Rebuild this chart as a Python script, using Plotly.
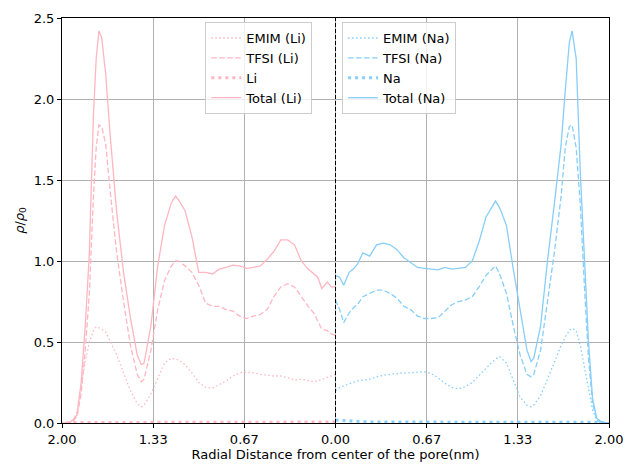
import plotly.graph_objects as go

# ---------------- data ----------------
r_li = [0.00,0.03,0.06,0.10,0.13,0.16,0.20,0.25,0.30,0.35,0.40,0.45,0.50,0.55,0.60,0.65,0.70,0.75,0.80,0.85,
        0.90,0.95,1.00,1.05,1.10,1.15,1.17,1.20,1.25,1.30,1.35,1.40,1.42,1.45,1.50,1.55,1.60,1.65,1.68,1.71,
        1.73,1.75,1.77,1.80,1.83,1.86,1.89,1.92,1.95,1.98,2.00]
li_total = [0.84,0.84,0.87,0.83,0.90,0.92,0.95,1.00,1.10,1.13,1.13,1.06,1.01,0.97,0.96,0.955,0.97,0.975,0.96,0.95,
            0.92,0.93,0.93,1.15,1.31,1.38,1.40,1.36,1.22,0.97,0.60,0.37,0.36,0.42,0.65,0.93,1.30,1.80,2.15,2.38,
            2.42,2.25,1.90,1.05,0.60,0.25,0.05,0.02,0.00,0.00,0.00]
li_tfsi = [0.54,0.55,0.57,0.58,0.63,0.68,0.72,0.78,0.84,0.86,0.84,0.78,0.70,0.67,0.66,0.645,0.66,0.69,0.70,0.72,
           0.72,0.74,0.85,0.93,0.97,1.00,1.00,0.97,0.88,0.70,0.45,0.27,0.255,0.30,0.48,0.75,1.05,1.45,1.72,1.83,
           1.84,1.70,1.40,0.80,0.45,0.18,0.04,0.01,0.00,0.00,0.00]
li_emim = [0.30,0.29,0.28,0.27,0.26,0.255,0.26,0.27,0.265,0.28,0.29,0.29,0.295,0.30,0.31,0.315,0.31,0.29,0.26,0.235,
           0.215,0.22,0.25,0.31,0.36,0.39,0.395,0.40,0.37,0.28,0.18,0.11,0.10,0.12,0.20,0.31,0.42,0.51,0.56,0.58,
           0.59,0.595,0.57,0.50,0.38,0.22,0.07,0.01,0.00,0.00,0.00]

r_na = [0.00,0.03,0.06,0.10,0.13,0.16,0.20,0.25,0.30,0.35,0.40,0.45,0.50,0.55,0.60,0.65,0.70,0.75,0.80,0.85,
        0.90,0.95,1.00,1.05,1.10,1.15,1.17,1.20,1.25,1.30,1.35,1.40,1.43,1.45,1.50,1.55,1.60,1.65,1.68,1.71,
        1.73,1.76,1.79,1.82,1.85,1.88,1.91,1.94,1.97,2.00]
na_total = [0.91,0.90,0.85,0.93,0.95,0.98,1.05,1.03,1.10,1.11,1.10,1.07,1.02,0.99,0.96,0.955,0.95,0.945,0.96,0.95,
            0.955,0.96,1.00,1.12,1.27,1.34,1.37,1.33,1.22,0.95,0.70,0.45,0.38,0.40,0.60,1.00,1.35,1.72,2.05,2.35,
            2.42,2.25,1.55,1.05,0.50,0.15,0.03,0.01,0.00,0.00]
na_tfsi = [0.76,0.70,0.62,0.68,0.71,0.73,0.78,0.80,0.82,0.82,0.80,0.77,0.72,0.70,0.66,0.645,0.645,0.65,0.69,0.73,
           0.75,0.76,0.78,0.84,0.91,0.95,0.97,0.92,0.80,0.60,0.42,0.30,0.285,0.30,0.45,0.75,1.05,1.40,1.70,1.83,
           1.84,1.70,1.35,0.85,0.40,0.12,0.02,0.00,0.00,0.00]
na_emim = [0.20,0.22,0.23,0.24,0.25,0.26,0.265,0.27,0.285,0.295,0.30,0.305,0.31,0.31,0.315,0.317,0.305,0.28,0.245,0.22,
           0.21,0.225,0.25,0.295,0.34,0.38,0.395,0.41,0.37,0.26,0.16,0.11,0.10,0.11,0.17,0.27,0.38,0.48,0.53,0.57,
           0.585,0.57,0.48,0.34,0.20,0.08,0.02,0.00,0.00,0.00]

r_ion = [0.0,0.1,0.2,0.3,0.4,0.5,0.6,0.7,0.8,0.9,1.0,1.1,1.2,1.3,1.4,1.5,1.6,1.7,1.8,1.9,2.0]
li_ion = [0.006,0.006,0.005,0.005,0.005,0.005,0.005,0.005,0.005,0.005,0.005,0.005,0.005,0.005,0.005,0.005,0.005,0.006,0.006,0.003,0.0]
na_ion = [0.018,0.012,0.008,0.006,0.006,0.005,0.005,0.005,0.005,0.005,0.005,0.005,0.005,0.005,0.005,0.005,0.006,0.007,0.008,0.004,0.0]

tick_vals = [-2.0, -1.3333, -0.6667, 0.0, 0.6667, 1.3333, 2.0]
tick_text = ["2.00", "1.33", "0.67", "0.00", "0.67", "1.33", "2.00"]
y_ticks = [0.0, 0.5, 1.0, 1.5, 2.0, 2.5]

LI = "#FFB6C1"
NA = "#87CEFA"
DOT = "1.5px,2.5px"
DASH = "5.5px,2.5px"
ION = "3px,4px"

fig = go.Figure()

def neg(v):
    return [-x for x in v]

# Li (left side)
fig.add_trace(go.Scatter(x=neg(r_li), y=li_emim, mode="lines", name="EMIM (Li)",
                         line=dict(color=LI, width=1.3, dash=DOT), legend="legend"))
fig.add_trace(go.Scatter(x=neg(r_li), y=li_tfsi, mode="lines", name="TFSI (Li)",
                         line=dict(color=LI, width=1.3, dash=DASH), legend="legend"))
fig.add_trace(go.Scatter(x=neg(r_ion), y=li_ion, mode="lines", name="Li",
                         line=dict(color=LI, width=3, dash=ION), legend="legend"))
fig.add_trace(go.Scatter(x=neg(r_li), y=li_total, mode="lines", name="Total (Li)",
                         line=dict(color=LI, width=1.3), legend="legend"))

# Na (right side)
fig.add_trace(go.Scatter(x=r_na, y=na_emim, mode="lines", name="EMIM (Na)",
                         line=dict(color=NA, width=1.3, dash=DOT), legend="legend2"))
fig.add_trace(go.Scatter(x=r_na, y=na_tfsi, mode="lines", name="TFSI (Na)",
                         line=dict(color=NA, width=1.3, dash=DASH), legend="legend2"))
fig.add_trace(go.Scatter(x=r_ion, y=na_ion, mode="lines", name="Na",
                         line=dict(color=NA, width=3, dash=ION), legend="legend2"))
fig.add_trace(go.Scatter(x=r_na, y=na_total, mode="lines", name="Total (Na)",
                         line=dict(color=NA, width=1.3), legend="legend2"))

fig.add_shape(type="line", x0=0, x1=0, y0=0, y1=1, xref="x", yref="paper",
              line=dict(color="black", width=1, dash="4px,2px"))

leg_common = dict(bgcolor="rgba(255,255,255,0.8)", bordercolor="#cccccc", borderwidth=1,
                  font=dict(size=13, color="black"), xanchor="left", yanchor="top",
                  itemwidth=30, tracegroupgap=0)

fig.update_layout(
    width=625, height=468,
    margin=dict(l=62, r=16, t=18, b=45),
    paper_bgcolor="white", plot_bgcolor="white",
    font=dict(family="DejaVu Sans", size=13, color="black"),
    showlegend=True,
    legend=dict(x=0.262, y=0.99, **leg_common),
    legend2=dict(x=0.512, y=0.99, **leg_common),
)
fig.update_xaxes(range=[-2, 2], tickvals=tick_vals, ticktext=tick_text, automargin=False,
                 ticklabeloverflow="allow",
                 showgrid=True, gridcolor="#b0b0b0", gridwidth=1,
                 showline=True, linecolor="black", linewidth=1, mirror=True,
                 ticks="outside", ticklen=4, tickcolor="black", zeroline=False,
                 title=dict(text="Radial Distance from center of the pore(nm)", font=dict(size=13), standoff=4))
fig.update_yaxes(range=[0, 2.5], tickvals=y_ticks, tickformat=".1f", automargin=False,
                 showgrid=True, gridcolor="#b0b0b0", gridwidth=1,
                 showline=True, linecolor="black", linewidth=1, mirror=True,
                 ticks="outside", ticklen=4, tickcolor="black", zeroline=False,
                 title=dict(text="<i>ρ</i>/<i>ρ</i><sub>0</sub>", font=dict(size=13), standoff=6))

fig.write_html("out.html")
